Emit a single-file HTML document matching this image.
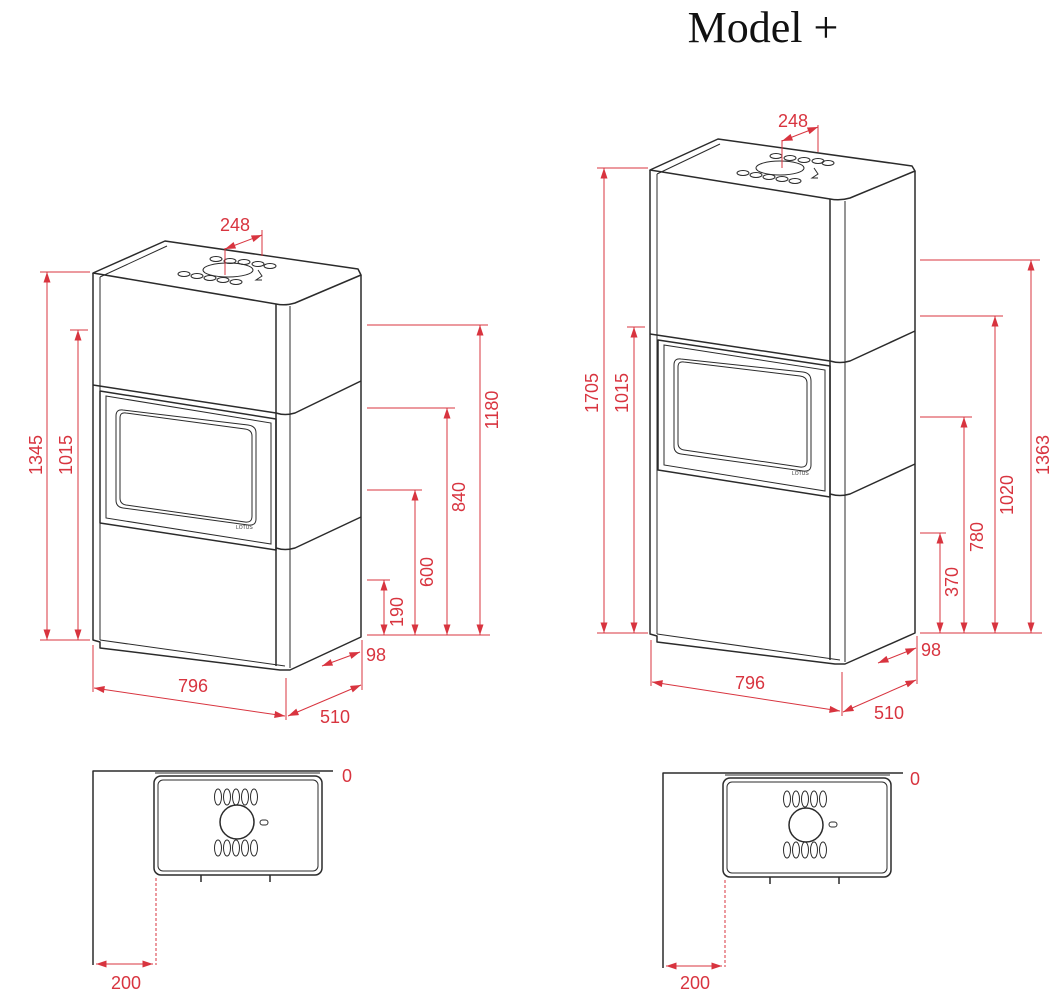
<!DOCTYPE html>
<html><head><meta charset="utf-8"><style>
html,body{margin:0;padding:0;background:#fff;}
svg{display:block;}
.k{fill:none;stroke:#2b2b2b;stroke-width:1.5;stroke-linejoin:round;}
.t{fill:none;stroke:#2b2b2b;stroke-width:1;}
.r{fill:none;stroke:#d8343f;stroke-width:1;}
.rd{fill:none;stroke:#d8343f;stroke-width:1;stroke-dasharray:3 2;}
text.d{font-family:"Liberation Sans",sans-serif;font-size:18px;fill:#d8343f;}
</style></head><body>
<svg width="1060" height="1001" viewBox="0 0 1060 1001" xmlns="http://www.w3.org/2000/svg">
<defs>
<marker id="m" viewBox="0 0 12 8" refX="12" refY="4" markerWidth="12" markerHeight="7" orient="auto-start-reverse" markerUnits="userSpaceOnUse"><path d="M0,0 L12,4 L0,8 z" fill="#d8343f"/></marker>
</defs>
<text x="763" y="42" text-anchor="middle" style="font-family:'Liberation Serif',serif;font-size:44px;fill:#111">Model +</text>

<!-- LEFT STOVE -->
<g>
<path class="k" d="M93,273 L165,241 L358,269 L361,275 L295,303 Q285,306 276,304 L93,273 Z"/>
<path class="t" d="M100,277 L167,246"/>
<path class="k" d="M93,273 L93,640 L100,642 L100,648 L280,670 L290,670 L361,637 L361,275"/>
<path class="t" d="M100,277 L100,640"/>
<path class="k" d="M276,304 L276,666"/>
<path class="t" d="M290,306 L290,668"/>
<path class="t" d="M100,640 L285,666"/>
<path class="k" d="M93,385 L276,413 Q285,416 295,413 L361,381"/>
<path class="k" d="M100,391 L276,419 L276,550 L100,523 Z"/>
<path class="t" d="M106,396 L271,423 L271,544 L106,518 Z"/>
<path class="t" d="M126,413 Q120,412 120,418 L120,498 Q120,504 126,505 L245,522 Q252,523 252,516 L252,436 Q252,430 245,429 Z"/>
<path class="t" d="M123,410 Q116,409 116,416 L116,500 Q116,507 123,508 L248,525 Q256,526 256,519 L256,433 Q256,426 248,425 Z"/>
<text x="236" y="529" style="font-family:'Liberation Sans',sans-serif;font-size:5px;fill:#333">LOTUS</text>
<path class="k" d="M276,548 Q285,551 295,548 L361,517"/>
<ellipse class="t" cx="228" cy="270" rx="25" ry="7"/>
<g class="t">
<ellipse cx="216" cy="259" rx="6" ry="2.5"/><ellipse cx="230" cy="261" rx="6" ry="2.5"/><ellipse cx="244" cy="262" rx="6" ry="2.5"/><ellipse cx="258" cy="264" rx="6" ry="2.5"/><ellipse cx="270" cy="266" rx="6" ry="2.5"/>
<ellipse cx="184" cy="274" rx="6" ry="2.5"/><ellipse cx="197" cy="276" rx="6" ry="2.5"/><ellipse cx="210" cy="278" rx="6" ry="2.5"/><ellipse cx="223" cy="280" rx="6" ry="2.5"/><ellipse cx="236" cy="282" rx="6" ry="2.5"/>
</g>
<path class="t" d="M258,270 L262,276 L256,280 L262,280"/>
</g>

<!-- LEFT DIMENSIONS -->
<g>
<path class="r" d="M40,272 L90,272 M70,330 L88,330"/>
<path class="r" d="M47,272 L47,640" marker-start="url(#m)" marker-end="url(#m)"/>
<path class="r" d="M78,330 L78,640" marker-start="url(#m)" marker-end="url(#m)"/>
<path class="r" d="M40,640 L90,640"/>
<text class="d" transform="translate(42,455) rotate(-90)" text-anchor="middle">1345</text>
<text class="d" transform="translate(72,455) rotate(-90)" text-anchor="middle">1015</text>

<path class="r" d="M367,325 L488,325 M367,408 L455,408 M367,490 L422,490 M367,580 L390,580 M367,635 L490,635"/>
<path class="r" d="M480,325 L480,635" marker-start="url(#m)" marker-end="url(#m)"/>
<path class="r" d="M447,408 L447,635" marker-start="url(#m)" marker-end="url(#m)"/>
<path class="r" d="M415,490 L415,635" marker-start="url(#m)" marker-end="url(#m)"/>
<path class="r" d="M384,580 L384,635" marker-start="url(#m)" marker-end="url(#m)"/>
<text class="d" transform="translate(498,410) rotate(-90)" text-anchor="middle">1180</text>
<text class="d" transform="translate(465,497) rotate(-90)" text-anchor="middle">840</text>
<text class="d" transform="translate(433,572) rotate(-90)" text-anchor="middle">600</text>
<text class="d" transform="translate(403,612) rotate(-90)" text-anchor="middle">190</text>

<path class="r" d="M93,645 L93,692 M286,678 L286,720 M362,640 L362,690"/>
<path class="r" d="M94,688 L285,716" marker-start="url(#m)" marker-end="url(#m)"/>
<path class="r" d="M288,716 L361,685" marker-start="url(#m)" marker-end="url(#m)"/>
<path class="r" d="M322,666 L360,652" marker-start="url(#m)" marker-end="url(#m)"/>
<text class="d" x="193" y="692" text-anchor="middle">796</text>
<text class="d" x="335" y="723" text-anchor="middle">510</text>
<text class="d" x="376" y="661" text-anchor="middle">98</text>

<path class="r" d="M225,275 L225,248 M262,256 L262,230"/>
<path class="r" d="M225,249 L262,235" marker-start="url(#m)" marker-end="url(#m)"/>
<text class="d" x="235" y="231" text-anchor="middle">248</text>
</g>

<!-- LEFT TOP VIEW -->
<g>
<path class="k" d="M93,965 L93,771 L333,771"/>
<path class="t" d="M155,773 L320,773 M210,773 L263,773"/>
<rect class="k" x="154" y="776" width="168" height="99" rx="7"/>
<rect class="t" x="158" y="780" width="160" height="91" rx="5"/>
<circle class="k" cx="237" cy="822" r="17"/>
<g class="t">
<ellipse cx="218" cy="797" rx="3.5" ry="8"/><ellipse cx="227" cy="797" rx="3.5" ry="8"/><ellipse cx="236" cy="797" rx="3.5" ry="8"/><ellipse cx="245" cy="797" rx="3.5" ry="8"/><ellipse cx="254" cy="797" rx="3.5" ry="8"/>
<ellipse cx="218" cy="848" rx="3.5" ry="8"/><ellipse cx="227" cy="848" rx="3.5" ry="8"/><ellipse cx="236" cy="848" rx="3.5" ry="8"/><ellipse cx="245" cy="848" rx="3.5" ry="8"/><ellipse cx="254" cy="848" rx="3.5" ry="8"/>
<rect x="260" y="820" width="8" height="5" rx="2.5"/>
</g>
<path class="k" d="M201,875 L201,882 M270,875 L270,882"/>
<path class="rd" d="M156,878 L156,965"/>
<path class="r" d="M96,964 L153,964" marker-start="url(#m)" marker-end="url(#m)"/>
<text class="d" x="126" y="989" text-anchor="middle">200</text>
<text class="d" x="347" y="782" text-anchor="middle">0</text>
</g>

<!-- RIGHT STOVE -->
<g>
<path class="k" d="M650,170 L718,139 L912,166 L915,171 L850,198 Q840,201 830,199 L650,170 Z"/>
<path class="t" d="M657,174 L720,144"/>
<path class="k" d="M650,170 L650,634 L657,636 L657,642 L835,664 L845,664 L915,633 L915,171"/>
<path class="t" d="M657,174 L657,634"/>
<path class="k" d="M830,199 L830,660"/>
<path class="t" d="M845,201 L845,662"/>
<path class="t" d="M657,634 L840,660"/>
<path class="k" d="M650,334 L830,361 Q840,364 850,361 L915,331"/>
<path class="k" d="M658,340 L830,366 L830,497 L658,470 Z"/>
<path class="t" d="M664,345 L825,370 L825,491 L664,465 Z"/>
<path class="t" d="M684,362 Q678,361 678,367 L678,443 Q678,449 684,450 L800,467 Q807,468 807,461 L807,383 Q807,377 800,376 Z"/>
<path class="t" d="M681,359 Q674,358 674,365 L674,446 Q674,453 681,454 L803,471 Q811,472 811,465 L811,381 Q811,373 803,372 Z"/>
<text x="792" y="475" style="font-family:'Liberation Sans',sans-serif;font-size:5px;fill:#333">LOTUS</text>
<path class="k" d="M830,494 Q840,497 850,494 L915,464"/>
<ellipse class="t" cx="780" cy="168" rx="24" ry="7"/>
<g class="t">
<ellipse cx="776" cy="156" rx="6" ry="2.5"/><ellipse cx="790" cy="158" rx="6" ry="2.5"/><ellipse cx="804" cy="160" rx="6" ry="2.5"/><ellipse cx="818" cy="161" rx="6" ry="2.5"/><ellipse cx="828" cy="163" rx="6" ry="2.5"/>
<ellipse cx="743" cy="173" rx="6" ry="2.5"/><ellipse cx="756" cy="175" rx="6" ry="2.5"/><ellipse cx="769" cy="177" rx="6" ry="2.5"/><ellipse cx="782" cy="179" rx="6" ry="2.5"/><ellipse cx="795" cy="181" rx="6" ry="2.5"/>
</g>
<path class="t" d="M814,168 L818,174 L812,178 L818,178"/>
</g>

<!-- RIGHT DIMENSIONS -->
<g>
<path class="r" d="M597,168 L648,168 M627,327 L645,327 M597,633 L648,633"/>
<path class="r" d="M604,168 L604,633" marker-start="url(#m)" marker-end="url(#m)"/>
<path class="r" d="M634,327 L634,633" marker-start="url(#m)" marker-end="url(#m)"/>
<text class="d" transform="translate(598,393) rotate(-90)" text-anchor="middle">1705</text>
<text class="d" transform="translate(628,393) rotate(-90)" text-anchor="middle">1015</text>

<path class="r" d="M920,260 L1040,260 M920,316 L1003,316 M920,417 L972,417 M920,533 L946,533 M920,633 L1042,633"/>
<path class="r" d="M1031,260 L1031,633" marker-start="url(#m)" marker-end="url(#m)"/>
<path class="r" d="M995,316 L995,633" marker-start="url(#m)" marker-end="url(#m)"/>
<path class="r" d="M964,417 L964,633" marker-start="url(#m)" marker-end="url(#m)"/>
<path class="r" d="M940,533 L940,633" marker-start="url(#m)" marker-end="url(#m)"/>
<text class="d" transform="translate(1049,455) rotate(-90)" text-anchor="middle">1363</text>
<text class="d" transform="translate(1013,495) rotate(-90)" text-anchor="middle">1020</text>
<text class="d" transform="translate(983,537) rotate(-90)" text-anchor="middle">780</text>
<text class="d" transform="translate(958,582) rotate(-90)" text-anchor="middle">370</text>

<path class="r" d="M651,640 L651,686 M842,672 L842,716 M917,636 L917,684"/>
<path class="r" d="M652,682 L840,711" marker-start="url(#m)" marker-end="url(#m)"/>
<path class="r" d="M843,712 L916,680" marker-start="url(#m)" marker-end="url(#m)"/>
<path class="r" d="M878,663 L916,648" marker-start="url(#m)" marker-end="url(#m)"/>
<text class="d" x="750" y="689" text-anchor="middle">796</text>
<text class="d" x="889" y="719" text-anchor="middle">510</text>
<text class="d" x="931" y="656" text-anchor="middle">98</text>

<path class="r" d="M782,168 L782,140 M818,152 L818,125"/>
<path class="r" d="M782,141 L818,127" marker-start="url(#m)" marker-end="url(#m)"/>
<text class="d" x="793" y="127" text-anchor="middle">248</text>
</g>

<!-- RIGHT TOP VIEW -->
<g>
<path class="k" d="M663,968 L663,773 L903,773"/>
<path class="t" d="M725,775 L890,775 M779,775 L832,775"/>
<rect class="k" x="723" y="778" width="168" height="99" rx="7"/>
<rect class="t" x="727" y="782" width="160" height="91" rx="5"/>
<circle class="k" cx="806" cy="825" r="17"/>
<g class="t">
<ellipse cx="787" cy="799" rx="3.5" ry="8"/><ellipse cx="796" cy="799" rx="3.5" ry="8"/><ellipse cx="805" cy="799" rx="3.5" ry="8"/><ellipse cx="814" cy="799" rx="3.5" ry="8"/><ellipse cx="823" cy="799" rx="3.5" ry="8"/>
<ellipse cx="787" cy="850" rx="3.5" ry="8"/><ellipse cx="796" cy="850" rx="3.5" ry="8"/><ellipse cx="805" cy="850" rx="3.5" ry="8"/><ellipse cx="814" cy="850" rx="3.5" ry="8"/><ellipse cx="823" cy="850" rx="3.5" ry="8"/>
<rect x="829" y="822" width="8" height="5" rx="2.5"/>
</g>
<path class="k" d="M770,877 L770,884 M839,877 L839,884"/>
<path class="rd" d="M725,880 L725,967"/>
<path class="r" d="M666,966 L722,966" marker-start="url(#m)" marker-end="url(#m)"/>
<text class="d" x="695" y="989" text-anchor="middle">200</text>
<text class="d" x="915" y="785" text-anchor="middle">0</text>
</g>
</svg>
</body></html>
